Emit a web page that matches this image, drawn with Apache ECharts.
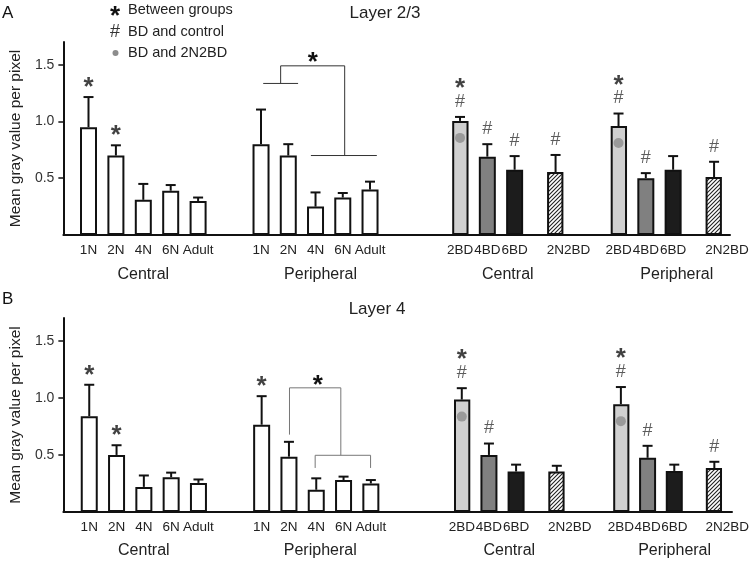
<!DOCTYPE html>
<html><head><meta charset="utf-8">
<script src="https://cdn.jsdelivr.net/npm/echarts@6/dist/echarts.min.js"></script>
<style>html,body{margin:0;padding:0;background:#fff}#c{width:752px;height:564px}</style>
</head><body><div id="c"></div>
<script>
// ---------- data ----------
const nCategories = ['1N', '2N', '4N', '6N', 'Adult'];
const bdCategories = ['2BD', '4BD', '6BD', '2N2BD'];
const yTicks = [0.5, 1.0, 1.5];

// Panel A : Layer 2/3  (mean, SEM)
const aCentralN = [0.95, 0.70, 0.31, 0.39, 0.30];
const aCentralNErr = [0.265, 0.09, 0.14, 0.05, 0.03];
const aPeriphN = [0.80, 0.70, 0.25, 0.33, 0.40];
const aPeriphNErr = [0.305, 0.10, 0.125, 0.04, 0.07];
const aCentralBD = [1.005, 0.69, 0.575, 0.555];
const aCentralBDErr = [0.035, 0.11, 0.12, 0.15];
const aPeriphBD = [0.96, 0.50, 0.575, 0.51];
const aPeriphBDErr = [0.11, 0.045, 0.12, 0.135];
// significance marks (* between groups, # BD vs control, o BD vs 2N2BD)
const aCentralNMarks = ['*', '*', '', '', ''];
const aPeriphNMarks = ['', '', '', '', ''];
const aCentralBDMarks = ['*#o', '#', '#', '#'];
const aPeriphBDMarks = ['*#o', '#', '', '#'];

// Panel B : Layer 4
const bCentralN = [0.84, 0.50, 0.22, 0.305, 0.255];
const bCentralNErr = [0.275, 0.085, 0.10, 0.04, 0.03];
const bPeriphN = [0.765, 0.485, 0.195, 0.28, 0.25];
const bPeriphNErr = [0.25, 0.13, 0.10, 0.03, 0.03];
const bCentralBD = [0.985, 0.50, 0.355, 0.355];
const bCentralBDErr = [0.10, 0.10, 0.06, 0.05];
const bPeriphBD = [0.945, 0.475, 0.36, 0.385];
const bPeriphBDErr = [0.15, 0.105, 0.055, 0.055];
const bCentralNMarks = ['*', '*', '', '', ''];
const bPeriphNMarks = ['*', '', '', '', ''];
const bCentralBDMarks = ['*#o', '#', '', ''];
const bPeriphBDMarks = ['*#o', '#', '', '#'];

// comparison brackets (category index, value) in the peripheral-N groups
const aBrackets = [
  [[0.72, 1.335], [0.72, 1.49], [3.07, 1.49], [3.07, 0.70]],
  [[0.08, 1.335], [1.36, 1.335]],
  [[1.83, 0.70], [4.25, 0.70]]
];
const aBracketStar = [1.9, 1.574];
const bBrackets = [
  [[1.02, 0.678], [1.02, 1.088], [2.9, 1.088], [2.9, 0.497]],
  [[1.96, 0.386], [1.96, 0.497], [3.99, 0.497], [3.99, 0.386]]
];
const bBracketStar = [2.06, 1.167];

// ---------- styles / layout ----------
const FONT = "'Liberation Sans', Arial, sans-serif";
const TXT = '#222';
const STAR_FONT = 'bold 26px ' + FONT;
function hatch() {
  const c = document.createElement('canvas'); c.width = 4; c.height = 4;
  const g = c.getContext('2d');
  g.fillStyle = '#fff'; g.fillRect(0, 0, 4, 4);
  g.strokeStyle = '#222'; g.lineWidth = 1.1;
  g.beginPath();
  g.moveTo(0, 4); g.lineTo(4, 0);
  g.moveTo(-1, 1); g.lineTo(1, -1);
  g.moveTo(3, 5); g.lineTo(5, 3);
  g.stroke();
  return c;
}
const bdFill = {'2BD': '#d0d0d0', '4BD': '#808080', '6BD': '#1c1c1c', '2N2BD': {image: hatch(), repeat: 'repeat'}};

const grids = [], xAxes = [], yAxes = [], series = [];

function addFrame(l, t, w, h) {
  const gi = grids.length;
  grids.push({left: l, top: t, width: w, height: h});
  xAxes.push({gridIndex: gi, type: 'value', min: 0, max: 1,
    axisLine: {show: true, onZero: false, lineStyle: {color: '#111', width: 2}},
    axisTick: {show: false}, axisLabel: {show: false}, splitLine: {show: false}});
  yAxes.push({gridIndex: gi, type: 'value', min: 0, max: 1.7,
    name: 'Mean gray value per pixel', nameLocation: 'middle', nameGap: 39,
    nameTextStyle: {fontSize: 15.5, color: TXT, fontFamily: FONT},
    axisLine: {show: true, lineStyle: {color: '#111', width: 2}},
    axisTick: {show: true, length: 5, customValues: yTicks, lineStyle: {color: '#111', width: 1.5}},
    axisLabel: {customValues: yTicks, formatter: v => v.toFixed(1), fontSize: 14, color: '#333', fontFamily: FONT, margin: 9},
    splitLine: {show: false}});
}

function addGroup(box, cats, isBD, vals, errs, marks, name, namePad, nameGap, brackets, bStar, bColor) {
  const [l, t, w, h] = box;
  const gi = grids.length;
  grids.push({left: l, top: t, width: w, height: h});
  const slots = isBD ? [0, 2, 4, 7] : [0, 1, 2, 3, 4];
  const nSlots = isBD ? 8 : 5;
  const axisCats = [];
  for (let i = 0; i < nSlots; i++) axisCats.push('_' + i);
  cats.forEach((c, k) => axisCats[slots[k]] = c);
  xAxes.push({gridIndex: gi, type: 'category', data: axisCats,
    axisLine: {show: false}, axisTick: {show: false}, splitLine: {show: false},
    axisLabel: {interval: 0, margin: 8, fontSize: 13.5, color: TXT, fontFamily: FONT,
      formatter: v => v.charAt(0) === '_' ? '' : (v === '2N2BD' ? '{s|' + v + '}' : v),
      rich: {s: {fontSize: 13.5, color: TXT, fontFamily: FONT, padding: [0, 0, 0, 26]}}},
    name: name, nameLocation: 'middle', nameGap: nameGap,
    nameTextStyle: {fontSize: 16, color: TXT, fontFamily: FONT, padding: [0, 0, 0, namePad]}});
  yAxes.push({gridIndex: gi, type: 'value', min: 0, max: 1.7, show: false});

  const barData = axisCats.map(() => '-');
  const errData = [], markData = [], dotData = [];
  cats.forEach((c, k) => {
    const s = slots[k];
    barData[s] = {value: vals[k], itemStyle: {color: isBD ? bdFill[c] : '#fff', borderColor: '#111', borderWidth: 2}};
    errData.push([s, vals[k], errs[k]]);
    const m = marks[k], top = vals[k] + errs[k];
    const hasStar = m.indexOf('*') >= 0, hasHash = m.indexOf('#') >= 0;
    if (hasHash) markData.push({value: [s, top], label: {formatter: '#', fontSize: 18, color: '#333', offset: [0, -15]}});
    if (hasStar) markData.push({value: [s, top], label: {formatter: '*', fontSize: 26, fontWeight: 'bold', color: '#111', offset: [0, hasHash ? -28 : -9]}});
    if (m.indexOf('o') >= 0) dotData.push([s, vals[k]]);
  });
  series.push({type: 'bar', xAxisIndex: gi, yAxisIndex: gi, barWidth: 17, data: barData, silent: true, z: 2});
  series.push({type: 'custom', xAxisIndex: gi, yAxisIndex: gi, data: errData, encode: {x: 0, y: 1}, z: 3,
    renderItem: (p, api) => {
      const x = api.value(0), m = api.value(1), e = api.value(2);
      const p0 = api.coord([x, m]), p1 = api.coord([x, m + e]);
      return {type: 'group', children: [
        {type: 'line', shape: {x1: p0[0], y1: p0[1], x2: p1[0], y2: p1[1]}, style: {stroke: '#111', lineWidth: 2}},
        {type: 'line', shape: {x1: p1[0] - 5, y1: p1[1], x2: p1[0] + 5, y2: p1[1]}, style: {stroke: '#111', lineWidth: 2}}
      ]};
    }});
  series.push({type: 'scatter', xAxisIndex: gi, yAxisIndex: gi, symbolSize: 1, itemStyle: {color: 'rgba(0,0,0,0)'}, z: 4,
    label: {show: true, position: 'inside', align: 'center', verticalAlign: 'middle', fontFamily: FONT},
    data: markData});
  if (dotData.length) series.push({type: 'scatter', xAxisIndex: gi, yAxisIndex: gi, symbol: 'circle', symbolSize: 10,
    symbolOffset: [0, 17], itemStyle: {color: '#8c8c8c'}, z: 5, data: dotData});
  if (brackets) {
    series.push({type: 'custom', xAxisIndex: gi, yAxisIndex: gi, data: [[0, 0]], encode: {x: 0, y: 1}, z: 4,
      renderItem: (p, api) => {
        const pt = (x, y) => {
          const a = api.coord([0, y]), b = api.coord([1, y]);
          return [a[0] + (b[0] - a[0]) * x, a[1]];
        };
        const children = brackets.map(line => ({type: 'polyline',
          shape: {points: line.map(q => pt(q[0], q[1]))},
          style: {stroke: bColor, lineWidth: 1, fill: null}}));
        const sp = pt(bStar[0], bStar[1]);
        children.push({type: 'text', style: {text: '*', x: sp[0], y: sp[1] + 7, fill: '#111',
          font: STAR_FONT, align: 'center', verticalAlign: 'middle'}});
        return {type: 'group', children: children};
      }});
  }
}

// Panel A
addFrame(57, 42, 673, 193);
addGroup([74.8, 42, 137, 193], nCategories, false, aCentralN, aCentralNErr, aCentralNMarks, 'Central', 0, 32);
addGroup([247.4, 42, 136.25, 193], nCategories, false, aPeriphN, aPeriphNErr, aPeriphNMarks, 'Peripheral', 10, 32, aBrackets, aBracketStar, '#333');
addGroup([453.2, 42, 109.2, 193], bdCategories, true, aCentralBD, aCentralBDErr, aCentralBDMarks, 'Central', 0, 32);
addGroup([611.7, 42, 109.2, 193], bdCategories, true, aPeriphBD, aPeriphBDErr, aPeriphBDMarks, 'Peripheral', 21, 32);
// Panel B
addFrame(58, 318, 674, 194);
addGroup([75.6, 318, 136.5, 194], nCategories, false, bCentralN, bCentralNErr, bCentralNMarks, 'Central', 0, 31);
addGroup([248.0, 318, 136.5, 194], nCategories, false, bPeriphN, bPeriphNErr, bPeriphNMarks, 'Peripheral', 8, 31, bBrackets, bBracketStar, '#777');
addGroup([455.0, 318, 108.6, 194], bdCategories, true, bCentralBD, bCentralBDErr, bCentralBDMarks, 'Central', 0, 31);
addGroup([614.2, 318, 108.4, 194], bdCategories, true, bPeriphBD, bPeriphBDErr, bPeriphBDMarks, 'Peripheral', 14, 31);

const txt = (text, x, y, size, opt) => Object.assign({type: 'text', x: x, y: y, silent: true,
  style: Object.assign({text: text, font: size + 'px ' + FONT, fill: TXT, align: 'left', verticalAlign: 'middle'}, opt || {})});

const chart = echarts.init(document.getElementById('c'));
chart.setOption({
  animation: false,
  backgroundColor: '#fff',
  grid: grids, xAxis: xAxes, yAxis: yAxes, series: series,
  graphic: [
    txt('A', 2, 13, 17, {fill: '#111'}),
    txt('B', 2, 299, 17, {fill: '#111'}),
    txt('Layer 2/3', 385, 13, 17, {align: 'center'}),
    txt('Layer 4', 377, 309, 17, {align: 'center'}),
    txt('*', 115, 17, 26, {align: 'center', font: STAR_FONT, fill: '#111'}),
    txt('#', 115, 32, 18, {align: 'center', fill: '#333'}),
    {type: 'circle', x: 115.5, y: 53, shape: {r: 3}, style: {fill: '#8c8c8c'}, silent: true},
    txt('Between groups', 128, 10, 14.5),
    txt('BD and control', 128, 32, 14.5),
    txt('BD and 2N2BD', 128, 53, 14.5)
  ]
});
</script>
</body></html>
